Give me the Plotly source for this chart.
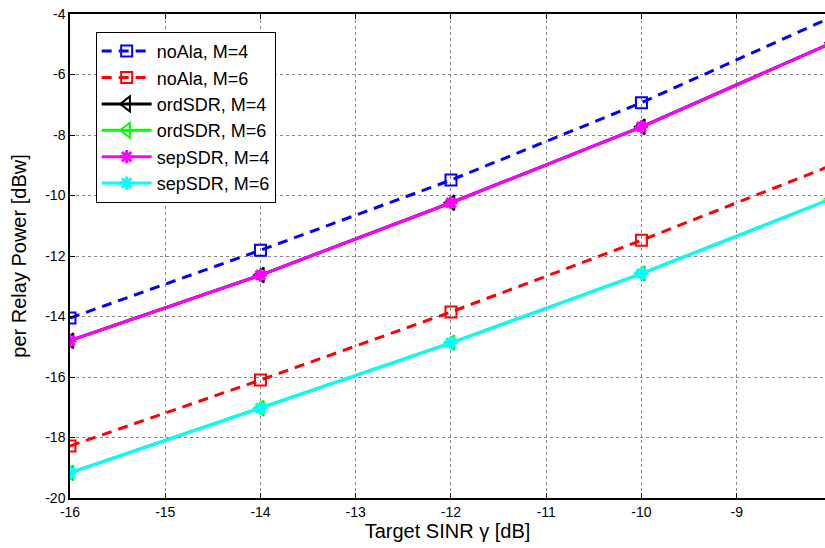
import plotly.graph_objects as go

x_vals = [-16, -14, -12, -10, -8]
noala_m4 = [-14.05, -11.81, -9.49, -6.93, -4.1]
noala_m6 = [-18.28, -16.10, -13.85, -11.48, -9.0]
ord_m4 = [-14.80, -12.63, -10.24, -7.73, -4.95]
ord_m6 = [-19.17, -17.03, -14.87, -12.58, -10.1]
sep_m4 = [-14.80, -12.63, -10.24, -7.73, -4.95]
sep_m6 = [-19.17, -17.03, -14.87, -12.58, -10.1]

x_ticks = [-16, -15, -14, -13, -12, -11, -10, -9, -8]
y_ticks = [-20, -18, -16, -14, -12, -10, -8, -6, -4]

series = [
    ("noAla, M=4", noala_m4, "#0000ff", "dash", "square-open"),
    ("noAla, M=6", noala_m6, "#ff0000", "dash", "square-open"),
    ("ordSDR, M=4", ord_m4, "#000000", "solid", "triangle-left-open"),
    ("ordSDR, M=6", ord_m6, "#00ff00", "solid", "triangle-left-open"),
    ("sepSDR, M=4", sep_m4, "#ff00ff", "solid", "asterisk-open"),
    ("sepSDR, M=6", sep_m6, "#00ffff", "solid", "asterisk-open"),
]

fig = go.Figure()
for i, (name, y, color, dash, sym) in enumerate(series):
    is_ast = sym.startswith("asterisk")
    fig.add_trace(go.Scatter(
        x=x_vals, y=y, name=name, mode="lines+markers",
        line=dict(color=color, width=3, dash="10px,7px" if dash == "dash" else "solid"),
        marker=dict(symbol=sym, size=11 if is_ast else (13 if "triangle" in sym else 11),
                    color=color, line=dict(color=color, width=3 if is_ast else 2)),
    ))

FONT = "Liberation Sans, Arial"
axis_common = dict(
    showline=True, linecolor="black", linewidth=1.5,
    ticks="inside", ticklen=5, tickcolor="black",
    showgrid=True, gridcolor="#888888", griddash="dot", gridwidth=1,
    zeroline=False, tickfont=dict(family=FONT, size=14, color="black"),
)

fig.update_layout(
    width=825, height=548,
    margin=dict(l=70, r=0, t=14, b=50),
    paper_bgcolor="white", plot_bgcolor="white",
    font=dict(family=FONT, color="black"),
    showlegend=True,
    legend=dict(
        x=0.034, y=0.963, xanchor="left", yanchor="top",
        bgcolor="white", bordercolor="black", borderwidth=1,
        font=dict(family=FONT, size=18, color="black"),
        itemwidth=50,
    ),
    xaxis=dict(range=[-16, -8.073], tickvals=x_ticks, ticktext=[str(v) for v in x_ticks],
               mirror="ticks",
               title=dict(text="Target SINR γ [dB]", font=dict(size=20), standoff=3),
               **axis_common),
    yaxis=dict(range=[-20, -4], tickvals=y_ticks, ticktext=[str(v) for v in y_ticks],
               mirror=False,
               title=dict(text="per Relay Power [dBw]", font=dict(size=20), standoff=13),
               **axis_common),
)

fig.write_html("out.html")
